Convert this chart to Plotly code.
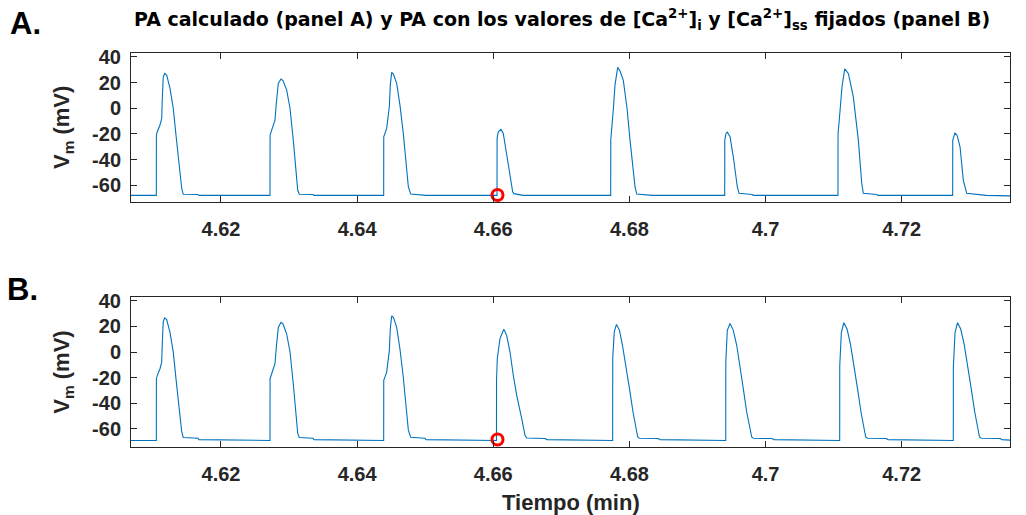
import plotly.graph_objects as go

# ---------------- data ----------------
t_A = [4.60678,
       4.61050, 4.61051, 4.61064, 4.61104, 4.61129, 4.61138, 4.61152, 4.61173, 4.61202, 4.61251, 4.61299, 4.61349, 4.61398, 4.61423, 4.61446, 4.61662, 4.61677,
       4.62720, 4.62721, 4.62749, 4.62793, 4.62815, 4.62842, 4.62881, 4.62911, 4.62965, 4.63014, 4.63062, 4.63102, 4.63127, 4.63150, 4.63352, 4.63366,
       4.64390, 4.64391, 4.64434, 4.64473, 4.64487, 4.64508, 4.64534, 4.64581, 4.64630, 4.64678, 4.64718, 4.64752, 4.64787, 4.64997, 4.65012,
       4.66055, 4.66056, 4.66074, 4.66113, 4.66147, 4.66197, 4.66246, 4.66285, 4.66304, 4.66422, 4.66437,
       4.67725, 4.67726, 4.67763, 4.67788, 4.67828, 4.67862, 4.67910, 4.67965, 4.68009, 4.68053, 4.68082, 4.68107, 4.68317, 4.68332,
       4.69400, 4.69401, 4.69419, 4.69438, 4.69478, 4.69526, 4.69585, 4.69610, 4.69801, 4.69820,
       4.71064, 4.71065, 4.71083, 4.71123, 4.71163, 4.71216, 4.71289, 4.71363, 4.71413, 4.71436, 4.71637, 4.71652,
       4.72749, 4.72750, 4.72783, 4.72813, 4.72857, 4.72905, 4.72955, 4.73224, 4.73239,
       4.73591]
vm_A = [-67.8,
        -67.8, -20.9, -18.3, -13.1, -7.9, 7.6, 24.4, 27.1, 25.8, 15.4, -0.1, -26.1, -49.4, -62.3, -67.0, -67.2, -67.8,
        -67.8, -20.9, -17.0, -9.2, 5.0, 19.3, 22.7, 21.5, 14.1, 0.0, -24.8, -50.0, -63.7, -67.0, -67.2, -67.8,
        -67.8, -22.2, -15.7, 1.1, 18.0, 27.9, 26.5, 19.3, 2.0, -19.6, -42.0, -61.0, -66.8, -67.2, -67.8,
        -67.8, -23.5, -18.3, -16.5, -19.6, -35.1, -53.3, -65.0, -66.5, -67.2, -67.8,
        -67.8, -24.8, -1.4, 18.0, 31.8, 29.0, 21.9, 0.0, -24.8, -48.0, -61.0, -66.8, -67.2, -67.8,
        -67.8, -24.8, -19.6, -18.6, -22.2, -37.8, -61.1, -66.2, -67.2, -67.8,
        -67.8, -19.6, -9.2, 16.7, 30.7, 27.1, 9.0, -24.8, -58.4, -66.2, -67.2, -67.8,
        -67.8, -24.8, -19.3, -21.0, -30.0, -55.9, -66.2, -67.2, -67.8,
        -68.2]

t_B = [4.60678,
       4.61050, 4.61051, 4.61064, 4.61104, 4.61129, 4.61138, 4.61152, 4.61173, 4.61202, 4.61251, 4.61299, 4.61349, 4.61398, 4.61423, 4.61446, 4.61662, 4.61677,
       4.62720, 4.62721, 4.62749, 4.62793, 4.62815, 4.62842, 4.62881, 4.62911, 4.62965, 4.63014, 4.63062, 4.63102, 4.63127, 4.63150, 4.63352, 4.63366,
       4.64390, 4.64391, 4.64434, 4.64473, 4.64487, 4.64508, 4.64534, 4.64581, 4.64630, 4.64678, 4.64718, 4.64752, 4.64787, 4.64997, 4.65012,
       4.66047, 4.66048, 4.66059, 4.66099, 4.66139, 4.66155, 4.66197, 4.66246, 4.66294, 4.66344, 4.66418, 4.66466, 4.66491, 4.66760, 4.66789,
       4.67754, 4.67755, 4.67778, 4.67810, 4.67854, 4.67898, 4.67950, 4.68001, 4.68053, 4.68097, 4.68122, 4.68148, 4.68420, 4.68449,
       4.69415, 4.69416, 4.69438, 4.69478, 4.69526, 4.69576, 4.69625, 4.69673, 4.69723, 4.69772, 4.69797, 4.69820, 4.70095, 4.70124,
       4.71089, 4.71090, 4.71113, 4.71150, 4.71197, 4.71248, 4.71299, 4.71351, 4.71402, 4.71446, 4.71471, 4.71498, 4.71770, 4.71799,
       4.72758, 4.72759, 4.72783, 4.72820, 4.72867, 4.72918, 4.72970, 4.73021, 4.73073, 4.73117, 4.73143, 4.73170, 4.73444, 4.73474,
       4.73591]
vm_B = [-69.3,
        -69.3, -20.9, -18.3, -13.1, -7.9, 7.6, 24.0, 26.7, 25.4, 15.4, -0.1, -26.1, -49.4, -62.3, -67.0, -67.6, -68.6,
        -69.3, -20.9, -17.0, -9.2, 5.0, 19.3, 23.3, 22.0, 14.1, 0.0, -24.8, -50.0, -63.7, -67.0, -67.6, -68.6,
        -69.3, -22.2, -15.7, 1.1, 18.0, 28.3, 27.0, 19.3, 2.0, -19.6, -42.0, -61.0, -66.8, -67.6, -68.6,
        -69.3, -22.1, -5.1, 10.5, 17.0, 17.8, 13.1, 0.0, -18.2, -33.9, -52.2, -65.3, -67.4, -67.8, -68.6,
        -69.3, -4.5, 16.0, 21.6, 17.0, 5.3, -10.4, -28.7, -47.0, -61.3, -66.6, -67.6, -67.8, -68.6,
        -69.3, -7.8, 17.0, 22.3, 17.0, 5.3, -10.4, -28.7, -47.0, -61.3, -66.6, -67.6, -67.8, -68.6,
        -69.3, -11.0, 15.0, 23.0, 18.0, 6.0, -10.0, -28.7, -47.0, -61.3, -66.6, -67.6, -67.8, -68.6,
        -69.3, -12.0, 15.0, 23.0, 18.0, 6.0, -10.0, -28.7, -47.0, -61.3, -66.6, -67.6, -67.8, -68.6,
        -69.0]

marker_t = [4.66062]
marker_vA = [-67.5]
marker_vB = [-68.5]

x_tickvals = [4.62, 4.64, 4.66, 4.68, 4.70, 4.72]
x_ticktext = ["4.62", "4.64", "4.66", "4.68", "4.7", "4.72"]
y_tickvals = [-60, -40, -20, 0, 20, 40]
y_ticktext = ["-60", "-40", "-20", "0", "20", "40"]

x_range = [4.60678, 4.73591]
yA_range = [-73.0, 43.0]
yB_range = [-74.4, 43.1]

# ---------------- figure ----------------
LINE_C = "#0072BD"
AX_C = "#262626"
FONT = "Liberation Sans"

fig = go.Figure()
fig.add_trace(go.Scatter(x=t_A, y=vm_A, mode="lines", line=dict(color=LINE_C, width=1.1),
                         xaxis="x", yaxis="y", showlegend=False, hoverinfo="skip"))
fig.add_trace(go.Scatter(x=marker_t, y=marker_vA, mode="markers",
                         marker=dict(symbol="circle-open", size=11, color="red", line=dict(width=3, color="red")),
                         xaxis="x", yaxis="y", showlegend=False))
fig.add_trace(go.Scatter(x=t_B, y=vm_B, mode="lines", line=dict(color=LINE_C, width=1.1),
                         xaxis="x2", yaxis="y2", showlegend=False, hoverinfo="skip"))
fig.add_trace(go.Scatter(x=marker_t, y=marker_vB, mode="markers",
                         marker=dict(symbol="circle-open", size=11, color="red", line=dict(width=3, color="red")),
                         xaxis="x2", yaxis="y2", showlegend=False))

tickfont = dict(family=FONT, size=20, color=AX_C, weight="bold")
xcommon = dict(range=x_range, tickvals=x_tickvals, ticktext=x_ticktext, ticks="inside", ticklen=6,
               tickcolor=AX_C, showline=True, linecolor=AX_C, linewidth=1, mirror="ticks",
               showgrid=False, zeroline=False, tickfont=tickfont, ticklabelstandoff=9)
ycommon = dict(tickvals=y_tickvals, ticktext=y_ticktext, ticks="inside", ticklen=6,
               tickcolor=AX_C, showline=True, linecolor=AX_C, linewidth=1, mirror="ticks",
               showgrid=False, zeroline=False, tickfont=tickfont, ticklabelstandoff=5)

fig.update_layout(
    width=1026, height=515,
    margin=dict(l=131, r=16, t=53, b=68),
    paper_bgcolor="white", plot_bgcolor="white",
    xaxis=dict(anchor="y", domain=[0, 1], **xcommon),
    yaxis=dict(anchor="x", domain=[0.6218, 1.0], range=yA_range, **ycommon),
    xaxis2=dict(anchor="y2", domain=[0, 1], **xcommon),
    yaxis2=dict(anchor="x2", domain=[0.0, 0.3807], range=yB_range, **ycommon),
)

ann_font = dict(family=FONT, color=AX_C, size=22, weight="bold")
annotations = [
    dict(text="PA calculado (panel A) y PA con los valores de [Ca<sup>2+</sup>]<sub>i</sub> y [Ca<sup>2+</sup>]<sub>ss</sub> fijados (panel B)",
         x=0.4903, y=1.0838, xref="paper", yref="paper", xanchor="center", yanchor="middle",
         showarrow=False, font=dict(family="DejaVu Sans", color="black", size=19, weight="bold")),
    dict(text="A.", x=-0.1195, y=1.0761, xref="paper", yref="paper", xanchor="center", yanchor="middle",
         showarrow=False, font=dict(family=FONT, color="black", size=31, weight="bold")),
    dict(text="B.", x=-0.124, y=0.401, xref="paper", yref="paper", xanchor="center", yanchor="middle",
         showarrow=False, font=dict(family=FONT, color="black", size=31, weight="bold")),
    dict(text="V<sub>m</sub> (mV)", x=-0.0774, y=0.812, xref="paper", yref="paper", xanchor="center",
         yanchor="middle", textangle=-90, showarrow=False, font=ann_font),
    dict(text="V<sub>m</sub> (mV)", x=-0.0774, y=0.191, xref="paper", yref="paper", xanchor="center",
         yanchor="middle", textangle=-90, showarrow=False, font=ann_font),
    dict(text="Tiempo (min)", x=0.5, y=-0.1396, xref="paper", yref="paper", xanchor="center",
         yanchor="middle", showarrow=False, font=ann_font),
]
fig.update_layout(annotations=annotations)

fig.write_html("out.html")
